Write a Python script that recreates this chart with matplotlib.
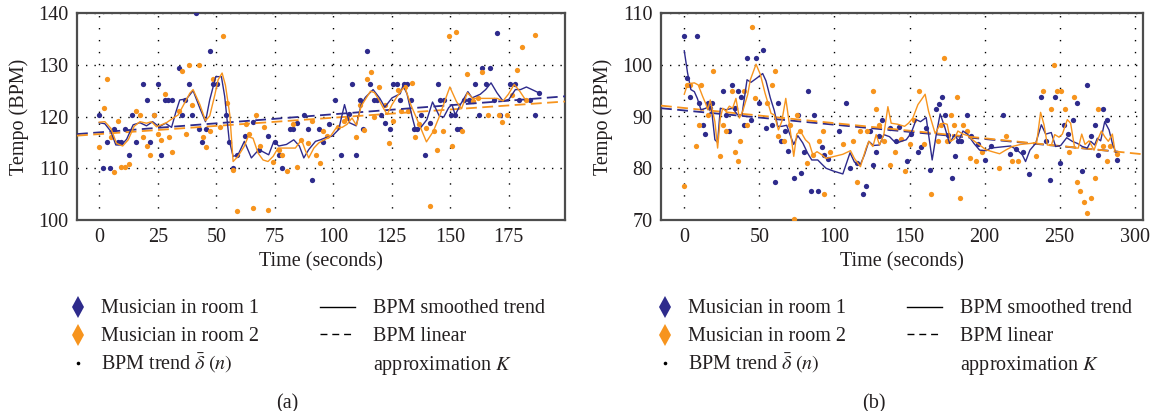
import matplotlib
matplotlib.use("Agg")
import matplotlib.pyplot as plt
from matplotlib.lines import Line2D

plt.rcParams['font.family'] = ['Liberation Serif', 'DejaVu Serif']
plt.rcParams['mathtext.fontset'] = 'stix'

BLUE = '#2e2b8c'
ORANGE = '#f7941d'
FS = 14.5

# ---------------- panel (a) data ----------------
a_blue_t = [0.1, 1.8, 3.3, 4.8, 6.4, 8.1, 9.5, 11.2, 12.7, 14.2, 15.8, 18.9, 20.3, 21.8, 23.3, 24.9,
            26.3, 28, 29.4, 31, 34, 35.4, 36.8, 38.3, 39.7, 41.2, 42.7, 44.1, 45.7, 47.2, 48.8, 50.2,
            54.3, 55.6, 57.3, 58.9, 62.2, 65.6, 68.4, 71.9, 75, 76.6, 78.1, 81.4, 82.8, 84.5, 87.5,
            89.2, 90.8, 94, 95.5, 98.1, 100.6, 103.3, 106.5, 108.2, 109.8, 111.3, 112.9, 114.5, 115.7,
            117.3, 118.7, 120.2, 122.2, 124.1, 125.6, 127.1, 128.6, 130, 131.6, 133, 134.3, 135.9,
            137.5, 139, 141.5, 144.6, 145.7, 147.3, 150.3, 151.9, 152.8, 154.3, 155.7, 158, 160.7,
            162.1, 163.7, 165.2, 166.8, 168.5, 169.8, 171.4, 175.6, 177.6, 179.5, 183.9, 186, 188]
a_blue_bpm = [120.3, 110, 115, 110, 117.5, 115, 115, 117.5, 112.5, 120.3, 115, 126.2, 123.2, 115, 120.3, 126.2,
              112.5, 123.2, 123.2, 123.2, 129.3, 120.3, 123.2, 126.2, 120.3, 140, 117.5, 115, 117.5, 132.6, 126.2, 126.2,
              120.3, 115, 110, 112.5, 116.3, 119, 113.5, 116.3, 115, 112.5, 110, 117.5, 117.5, 118.8, 120.3,
              117.5, 107.7, 117.5, 115, 118.5, 123.2, 112.5, 120.4, 126.2, 112.5, 123.2, 117.5, 132.6, 126.2,
              123.2, 123.2, 120.3, 118.8, 117.5, 126.2, 126.2, 123.2, 126.2, 126.2, 123.2, 117.5, 117.5,
              120.3, 112.5, 118.8, 126.2, 123.2, 123.2, 120.3, 120.3, 117.5, 117.5, 123.2, 123.2, 126.2,
              120.3, 129.3, 126.2, 129.3, 123.2, 136.2, 120.3, 126.2, 126.2, 123.2, 123.2, 120.3, 124.6]

a_orange_t = [0, 2, 3.4, 5.1, 6.4, 8.1, 9.5, 11.1, 12.7, 15.8, 17.4, 18.9, 20.3, 21.8, 23.3, 25, 26.6, 28,
              29.6, 31.2, 34, 35.4, 37, 38.4, 39.8, 42.8, 44.2, 45.8, 47.2, 48.8, 51.6, 53, 54.8, 57.2,
              58.9, 62.5, 64, 65.6, 67, 68.6, 70.3, 71.9, 74.1, 76.6, 78.1, 80.3, 82.8, 84.5, 86.1, 89.2,
              90.9, 92.7, 94.2, 95.7, 97.4, 101.9, 104.6, 106, 109.5, 111.5, 113, 114.5, 116, 117.6,
              119.4, 122.2, 123.8, 125.3, 127.8, 128.9, 130.6, 132.1, 133.6, 135, 136.8, 139.6, 141.2,
              142.9, 144.3, 146.9, 149.4, 150.7, 152.3, 154.8, 157.3, 159.5, 161.7, 163.7, 166, 170.7,
              172, 174.1, 176.4, 178.6, 180.6, 182.5, 186.3]
a_orange_bpm = [114.2, 121.7, 127.2, 116, 109.2, 119.1, 110.3, 110.3, 110.9, 121, 120.3, 116, 114.3, 112.6, 120.3, 116.6, 115.4, 124.4,
                116, 113.1, 121, 128.7, 116.6, 130, 122.3, 130, 116, 114.2, 117.2, 127.3, 118, 135.6, 122.7, 109.7,
                101.8, 118.5, 116.6, 102.3, 120.3, 114.3, 117.9, 101.9, 111.2, 113.6, 112.6, 109.5, 118.5, 110.3, 115.4, 114.8,
                119.1, 112.6, 111, 117.2, 116.3, 117.9, 119.1, 119.7, 116, 122.3, 117.4, 127.2, 128.6, 119.9,
                125.7, 122.2, 114.8, 119.1, 125.1, 121, 125.7, 121, 126.5, 116, 118.5, 117.8, 102.7,
                117.2, 113.6, 117.2, 135.6, 114.3, 136.4, 117.2, 128.3, 123, 123.6, 128.6, 120.3, 120.3,
                119, 120.3, 124.1, 129, 133.4, 123.2, 135.7]

a_blue_smooth_t = [0, 2.4, 5, 7.1, 9.5, 11.7, 14.5, 17.4, 20.2, 22.8, 25.6, 28.3, 30.9, 32.7, 34.4, 37.3,
                   40.1, 43, 45.4, 47.2, 49.8, 52.2, 53.6, 55.5, 57.2, 59.3, 62, 65, 68.2, 72.4, 74.6, 76.7,
                   80, 83.1, 85.5, 87.4, 89.5, 92.4, 94.5, 96.7, 99.5, 102.3, 104.8, 106.9, 109.8, 111.9,
                   113.7, 117, 119.9, 122, 125.1, 128.6, 129.8, 131.5, 133.6, 135, 137.1, 140, 142.4, 143.6,
                   145.3, 147.2, 149.3, 150.7, 152.1, 154.3, 157.5, 159.3, 162.8, 165.1, 167.4, 169.9,
                   172.5, 175, 177.8, 180, 182.5, 184.9, 187.7]
a_blue_smooth = [118.8, 118.6, 117.1, 114.5, 114.5, 115.6, 118.4, 118.8, 118.2, 119, 118, 118.7, 117.9, 120.8, 123.2, 123.4,
                 125, 121.6, 119, 123.2, 127.7, 127.7, 123.9, 115.5, 112.3, 112.6, 115.2, 112, 113.6, 112.6, 115.2, 114.3,
                 114.6, 115.5, 114.3, 112, 113.6, 115.2, 115.5, 115.9, 116.2, 117.5, 122.3, 118.8, 118.2, 122.3,
                 123.7, 125.2, 123.5, 121.8, 123.6, 124.4, 126, 124.4, 120.1, 117.7, 117.7, 119.4, 122.8, 121.7,
                 120.1, 119.9, 121.7, 122.3, 120.3, 122.3, 124.8, 123.6, 124.3, 125.2, 126.5, 124.6,
                 123, 123.3, 125.2, 125.2, 125.7, 125.2, 124.6]

a_orange_smooth_t = [0, 2.4, 5, 7.4, 10, 12.4, 14.9, 17.4, 20.2, 22.3, 24.5, 26.6, 28.7, 31.6, 33.7, 36.1,
                     38.7, 40.1, 43, 45.4, 47.2, 49.4, 50.8, 52.5, 53.9, 55.8, 57.2, 59.3, 61.9, 63.6, 65.7,
                     67.9, 70, 72.1, 74.3, 76.4, 78.1, 81, 83.8, 86.4, 88.1, 89.5, 91.7, 93.8, 96.2, 98.8,
                     101.4, 103.8, 105.9, 108, 109.9, 111.9, 113.7, 115.9, 117.6, 119.4, 121.3, 123, 125.1,
                     127.3, 129.4, 130.5, 133, 136.4, 139.8, 142.7, 145.5, 147.8, 149.8, 152.6, 154.8, 157.3,
                     159.5, 163, 167, 170, 172.5, 174.8, 177.3, 179.8, 182.3]
a_orange_smooth = [118.9, 119, 117.7, 114.8, 114.3, 115.5, 118.1, 119, 118.7, 119, 118, 118.4, 118.8, 119.7, 120.3, 122.3,
                   124.5, 125.2, 122.3, 119.2, 120.1, 124.2, 127.1, 128.4, 126.1, 120.3, 111.3, 112.3, 114.2, 116.1, 115.8,
                   112.9, 111.6, 111.3, 112.3, 113.9, 113.9, 113.9, 113.9, 115.5, 113.4, 112, 113.9, 114.9, 115.5, 116.2,
                   117.9, 117.9, 118.5, 119.7, 118.3, 122, 123.3, 124.9, 124.6, 123.3, 121.7, 120.4, 122.3,
                   123.9, 125.2, 125.8, 122.4, 118.8, 115.1, 117.1, 120.2, 123.2, 125.7, 122.9, 121.5, 124.6,
                   123.5, 123.5, 123.5, 123.5, 123, 124.3, 126.2, 124.8, 123.1]

# linear approximation K: end points (time, bpm)
a_blue_lin_t, a_blue_lin = [-9.5, 199], [116.6, 123.9]
a_orange_lin_t, a_orange_lin = [-9.5, 199], [116.3, 122.9]

# ---------------- panel (b) data ----------------
b_blue_t = [0, 1.6, 3.8, 8.4, 10, 12.2, 14, 15.6, 16.9, 18.2, 25.8, 27.6, 29.8, 31.8, 33.6, 35.8, 37.6,
            39.6, 41.8, 44.2, 47.8, 49.8, 52.7, 54.7, 58.2, 60.4, 62.2, 64.4, 66.9, 68.9, 72.9, 75.6,
            77.8, 80, 82.2, 84.4, 86.7, 88.9, 92, 93, 96, 103.3, 108, 110.2, 114.7, 119.1, 121.3, 123.6,
            125.6, 127.8, 130, 132, 136.7, 141.1, 142.9, 148, 151.1, 155.6, 157.8, 161.3, 163.6, 167.6,
            169.6, 171.6, 173.6, 175.6, 178, 180, 182.2, 184.4, 188.2, 191.1, 195.6, 200, 204, 212.4,
            216.7, 220.9, 225.3, 229.8, 237.8, 240.9, 243.3, 247.1, 250, 252.9, 255.6, 258.9, 261.8,
            264.7, 268.4, 270.7, 273.3, 275.3, 279.1, 281.8, 288]
b_blue_bpm = [105.6, 97.4, 93.7, 105.6, 92.6, 88.3, 86.6, 92.6, 91.6, 92.6, 94.9, 90.3, 87.2, 96.1, 91.6, 94.9, 93.7,
              88.3, 101.4, 89.4, 101.4, 92.6, 102.8, 87.7, 88.3, 77.4, 92.6, 85.2, 87.2, 83.4, 78.1, 90.3,
              79, 83.2, 94.9, 75.7, 90.3, 75.7, 84.2, 82.6, 81.8, 87.2, 92.6, 80.1, 81, 75, 76.5, 87.2,
              80.6, 83.2, 86.3, 89.3, 87.7, 85.2, 87.9, 81.4, 86.6, 83.2, 84.2, 87.7, 79.7, 91.5,
              92.5, 93.7, 90.3, 86.5, 78.1, 82.4, 85.2, 85.2, 90.3, 86.3, 84.6, 81.5, 84.3, 90.3,
              82.8, 83.7, 83.2, 78.8, 93.7, 85.2, 77.7, 93.7, 81, 88.3, 86.7, 89.3, 92.6,
              79.4, 96.1, 86.2, 88.3, 82.5, 91.5, 89.3, 81.5]

b_orange_t = [0, 1.6, 3.8, 7.8, 9.6, 11.3, 15.6, 19.3, 23.6, 25.6, 27.8, 31.8, 33.6, 35.6, 37.3, 39.6, 41.6,
              45.3, 47.1, 54.9, 58.7, 60.4, 62.4, 66.7, 70.2, 72.9, 75.1, 77.3, 81.6, 85.6, 90, 92.4, 93,
              97.1, 106, 112.4, 114.7, 116.9, 121.6, 125.6, 127.8, 130, 133.3, 136.9, 140.2, 144.4, 147.1,
              150, 152.9, 156.4, 159.6, 164.4, 169.1, 171.1, 173.3, 175.1, 177.3, 179.6, 181.6, 183.8,
              185.8, 188, 190, 194.2, 198, 209.6, 214, 218, 222.4, 234.4, 238.7, 244.2, 246.2, 248.4,
              250.7, 253.6, 256.2, 259.8, 261.8, 263.8, 266.2, 268.2, 270.7, 273.3, 275.3, 279.1, 281.8,
              283.8, 288.2]
b_orange_bpm = [76.5, 96.1, 96.1, 84.3, 88.3, 96.1, 90.3, 98.7, 82.4, 88.3, 87.2, 94.9, 83.2, 81.4, 85.2, 94.9, 88.3,
                107.2, 93.5, 92.6, 96.1, 98.7, 86.2, 85.2, 88.3, 70.2, 90.3, 87.2, 81, 82.6, 85.2, 87.2, 75,
                83.2, 84.7, 85.2, 77.3, 87.2, 87.2, 95, 91.5, 88.3, 85.2, 80.6, 83.1, 85.7, 79.4,
                84.6, 89.3, 95, 84.6, 75, 85.2, 88.3, 101.4, 85.2, 90.3, 88.3, 93.7, 74.2,
                88.3, 87.2, 81.9, 81.4, 83.2, 80.1, 86.2, 81.4, 81.4, 82.4, 95, 91.5, 100, 95,
                95, 91.5, 83.2, 93.7, 77.3, 75.7, 73.4, 71.4, 74.2, 78.1, 91.5, 84.3, 81.4,
                84.3, 82.8]

b_blue_smooth_t = [0, 2.2, 4.4, 6.7, 8.7, 11.1, 14.4, 17.8, 18.9, 20.4, 22.2, 24, 27.8, 32.2, 35.6, 38.4,
                   41.8, 44.4, 48.2, 52.2, 54.4, 57.3, 60, 62.2, 64.9, 68.2, 70, 72.9, 75.6, 78.9, 82.2, 84.9,
                   88.9, 91.6, 94.4, 98.9, 105.6, 110.4, 113.3, 117.1, 120, 122.9, 126, 130, 132.9, 136.7,
                   141.1, 144.4, 147.8, 151.1, 154.4, 157.3, 161.1, 165.1, 167.8, 170.4, 173.3, 176.7, 180,
                   182.7, 185.6, 188.9, 192.9, 196.7, 201.1, 204, 210.7, 217.3, 221.8, 225.1, 227.3, 230.2,
                   234, 237.8, 240.7, 244.4, 247.3, 250.7, 254.7, 258.4, 261.8, 265.1, 268.4, 270.7, 273.3,
                   275.1, 277.3, 280, 282.9, 285.1, 287.3]
b_blue_smooth = [102.7, 98.4, 95.2, 94.8, 93.5, 91.3, 91.6, 92.6, 89.4, 85.5, 85, 91.6, 91.3, 91.6, 90.3, 90.3,
                 97.1, 96.6, 97.4, 98.3, 96.9, 93.6, 91.1, 88.1, 88.1, 88.3, 86.8, 84.6, 86.3, 84.9, 82.9, 81.6,
                 81.6, 80.8, 80, 79.5, 78.9, 83, 81.2, 80.6, 82.6, 85.2, 84.4, 84.5, 86.5, 86.1,
                 84.8, 85.2, 85.5, 86.8, 89.4, 89, 89.8, 81.6, 86.5, 90.5, 88.1, 84.8, 86.5,
                 85.2, 87.2, 86.5, 84.8, 83.5, 83.4, 83.9, 84.1, 84.3, 83.5, 82.6, 81.3, 83.5,
                 84.8, 88.4, 86.6, 86.9, 84.2, 84.4, 85.9, 85.2, 84.8, 84.2, 83.9, 85.2, 84.5,
                 85.8, 85.3, 89, 87.4, 84.8, 83.1]

b_orange_smooth_t = [0, 2.2, 6.7, 9.3, 12.2, 14.4, 15.6, 17.3, 18.9, 20.4, 22.2, 24, 25.6, 27.8, 30, 32.2,
                     34.4, 36.7, 38.9, 42.2, 44, 47.8, 50.7, 53.8, 57.8, 60, 62.7, 64.9, 67.6, 70.2, 72.9,
                     74.9, 77.3, 80.7, 83.3, 85.6, 88.4, 91.6, 94.4, 100, 105.6, 110.7, 113.3, 117.3, 121.1,
                     122.9, 125.6, 127.8, 130, 132.9, 135.6, 137.8, 142.2, 146.7, 149.3, 152.2, 155.6, 157.8,
                     160.4, 162.7, 167.1, 170.4, 172.7, 175.1, 177.3, 180, 182.2, 185.6, 188.9, 193.3, 196.7,
                     200.7, 205.1, 210, 214, 218.4, 224, 230.7, 234.7, 237.3, 239.6, 241.8, 244.4, 246.7,
                     249.6, 251.8, 255.1, 257.3, 260, 262.4, 264.7, 266.9, 269.6, 272.9, 275.6, 277.8, 280,
                     282.4, 285.1, 286.9]
b_orange_smooth = [94.3, 96.3, 96.5, 96.1, 93.9, 92.4, 91.3, 93.2, 91, 89, 83.9, 89.7, 91.6, 91, 92, 91.6,
                   93.5, 89.7, 91, 94.2, 97.1, 100.1, 98.1, 94.5, 90.6, 90.3, 87.4, 89, 93.5, 88.1, 82.3,
                   86.6, 87.2, 85.5, 84.8, 82.6, 83.2, 82.6, 81.9, 82.3, 82.7, 83.4, 81.9, 80.3, 83.9,
                   85.2, 84.2, 86.5, 84.5, 86.5, 91.9, 88.7, 88.5, 88.1, 88.7, 89.7, 92.3, 93.2,
                   94.3, 91, 86.7, 88.5, 88.7, 88.5, 85.2, 85.7, 87.2, 86.6, 86.3, 85.2, 84.5,
                   83.6, 83.2, 82.8, 83.5, 84.2, 84.6, 84.8, 85, 90.8, 88.4, 84.5, 84.4, 86.5,
                   86, 86.6, 89.4, 88.7, 83.9, 83.9, 86.6, 84.6, 85.3, 83.5, 85.7, 87.2, 86.1,
                   85.2, 86.6, 83.2]

b_blue_lin_t, b_blue_lin = [-15.5, 289], [91.6, 83.2]
b_orange_lin_t, b_orange_lin = [-15.5, 305.5], [92.1, 82.7]

W, H = 1154, 411
fig = plt.figure(figsize=(W / 100, H / 100), dpi=100)
TXT = '#231f20'


def add_axes_px(left, top, right, bottom):
    return fig.add_axes([left / W, 1 - bottom / H, (right - left) / W, (bottom - top) / H])


def draw_panel(ax, bt, bv, ot, ov, bst, bsv, ost, osv, blt, blv, olt, olv, xlim, ylim, xticks, yticks):
    ax.plot(bt, bv, 'o', color=BLUE, ms=3.8, mew=0, zorder=3)
    ax.plot(ot, ov, 'o', color=ORANGE, ms=3.8, mew=0, zorder=3)
    ax.plot(blt, blv, color=BLUE, lw=1.3, dashes=(6, 3), zorder=4)
    ax.plot(olt, olv, color=ORANGE, lw=1.3, dashes=(6, 3), zorder=4)
    ax.plot(bst, bsv, color=BLUE, lw=1.0, zorder=5)
    ax.plot(ost, osv, color=ORANGE, lw=1.0, zorder=5)
    ax.set_xlim(xlim)
    ax.set_ylim(ylim)
    ax.set_xticks(xticks)
    ax.set_yticks(yticks)
    ax.tick_params(length=0, labelsize=FS, pad=6, colors=TXT)
    ax.grid(axis='x', color='black', lw=1.0, ls=(0, (1, 7.6)))
    ax.grid(axis='y', color='black', lw=1.0, ls=(0, (1, 5.1)))
    ax.set_axisbelow(True)
    for sp in ax.spines.values():
        sp.set_color('#4d4d4d')
        sp.set_linewidth(1.6)
    ax.set_xlabel('Time (seconds)', fontsize=FS, color=TXT)
    ax.set_ylabel('Tempo (BPM)', fontsize=FS, color=TXT)


def draw_legend(x_off, tag):
    def fx(x):
        return (x + x_off) / W

    def fy(y):
        return 1 - y / H

    marks = [(BLUE, 'd', 11), (ORANGE, 'd', 11), ('black', 'o', 2.6)]
    labels = ['Musician in room 1', 'Musician in room 2', r'BPM trend $\bar{\delta}\;(n)$']
    mark_y = [307.3, 335, 363.3]
    base_y = [312.5, 341, 369.5]
    for (c, m, s), lab, my, by in zip(marks, labels, mark_y, base_y):
        fig.add_artist(Line2D([fx(78)], [fy(my)], marker=m, color=c, ms=s, mew=0, ls='none'))
        fig.text(fx(101), fy(by), lab, fontsize=FS, va='baseline', ha='left', color=TXT)
    fig.add_artist(Line2D([fx(320), fx(355)], [fy(307.3)] * 2, color='black', lw=1.0))
    fig.add_artist(Line2D([fx(320), fx(355)], [fy(334.3)] * 2, color='black', lw=1.0, dashes=(5, 3.5)))
    fig.text(fx(373), fy(312.5), 'BPM smoothed trend', fontsize=FS, va='baseline', color=TXT)
    fig.text(fx(373), fy(341), 'BPM linear', fontsize=FS, va='baseline', color=TXT)
    fig.text(fx(373), fy(369.5), r'approximation $K$', fontsize=FS, va='baseline', color=TXT)
    fig.text(fx(287), fy(408.3), tag, fontsize=FS, va='baseline', ha='center', color=TXT)


ax_a = add_axes_px(77, 13, 565, 220)
draw_panel(ax_a, a_blue_t, a_blue_bpm, a_orange_t, a_orange_bpm,
           a_blue_smooth_t, a_blue_smooth, a_orange_smooth_t, a_orange_smooth,
           a_blue_lin_t, a_blue_lin, a_orange_lin_t, a_orange_lin,
           (-9.5, 199), (100, 140), [0, 25, 50, 75, 100, 125, 150, 175], [100, 110, 120, 130, 140])
ax_a.yaxis.set_label_coords(-0.098, 0.5)
ax_a.xaxis.set_label_coords(0.5, -0.155)

ax_b = add_axes_px(661, 13, 1143, 220)
draw_panel(ax_b, b_blue_t, b_blue_bpm, b_orange_t, b_orange_bpm,
           b_blue_smooth_t, b_blue_smooth, b_orange_smooth_t, b_orange_smooth,
           b_blue_lin_t, b_blue_lin, b_orange_lin_t, b_orange_lin,
           (-15.5, 305.5), (70, 110), [0, 50, 100, 150, 200, 250, 300], [70, 80, 90, 100, 110])
ax_b.yaxis.set_label_coords(-0.1, 0.5)
ax_b.xaxis.set_label_coords(0.5, -0.155)

draw_legend(0, '(a)')
draw_legend(587, '(b)')

fig.savefig('out.png', dpi=100)
